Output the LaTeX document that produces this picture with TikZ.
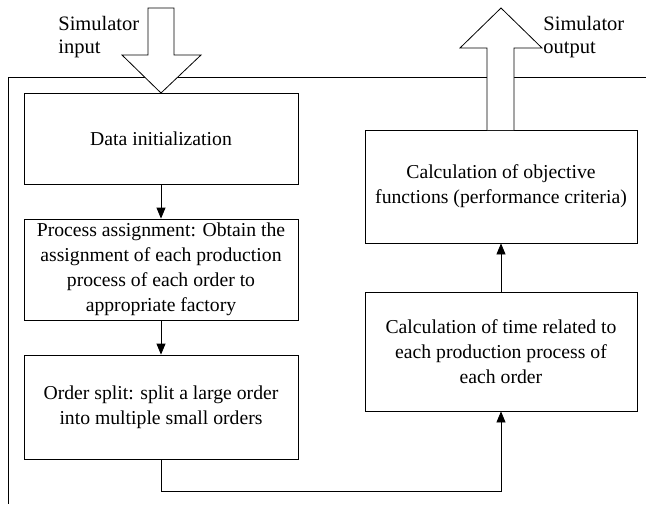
\documentclass[tikz,border=0pt]{standalone}
\usepackage{fontspec}
\setmainfont{Liberation Serif}
\usetikzlibrary{arrows.meta}
\begin{document}
\begin{tikzpicture}[x=1pt,y=-1pt,
  line width=0.8pt,
  box/.style={draw, align=center, inner sep=0pt, font=\fontsize{19.7}{25}\selectfont},
  arr/.style={-{Triangle[length=11pt,width=9pt]}},
  blockarrow/.style={draw, fill=white, line width=0.8pt},
  lbl/.style={align=left, anchor=north west, inner sep=0pt, font=\fontsize{20.5}{23}\selectfont}]
\useasboundingbox (0,0) rectangle (646,504);
% frame
\draw (646,77) -- (8,77) -- (8,504);
% boxes
\node[box, minimum width=274pt, minimum height=91pt] (data) at (161,138.5) {Data initialization};
\node[box, minimum width=274pt, minimum height=101pt] (proc) at (161,269.5)
  {Process assignment: Obtain the\\assignment of each production\\process of each order to\\appropriate factory};
\node[box, minimum width=274pt, minimum height=104pt] (split) at (161,407)
  {Order split: split a large order\\into multiple small orders};
\node[box, minimum width=272pt, minimum height=113pt] (obj) at (501,186.5)
  {Calculation of objective\\functions (performance criteria)};
\node[box, minimum width=272pt, minimum height=119pt] (time) at (501,351.5)
  {Calculation of time related to\\each production process of\\each order};
% connectors
\draw[arr] (data) -- (proc);
\draw[arr] (proc) -- (split);
\draw[arr] (split.south) -- ++(0,32) -| (time.south);
\draw[arr] (time) -- (obj);
% block arrows
\draw[blockarrow] (148,8) -- (174,8) -- (174,55) -- (201,55) -- (161,93) -- (122,55) -- (148,55) -- cycle;
\draw[blockarrow] (487,130) -- (487,48) -- (460,48) -- (501,8) -- (542,48) -- (514,48) -- (514,130);
% labels
\node[lbl] (inlbl) at (58,16) {Simulator\\input};
\node[lbl] (outlbl) at (543,16) {Simulator\\output};
\end{tikzpicture}
\end{document}
